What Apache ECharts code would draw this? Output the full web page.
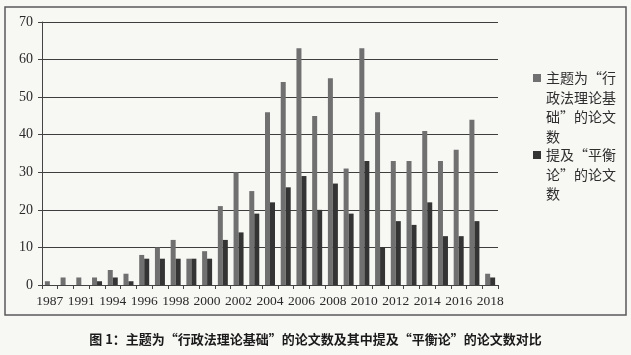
<!DOCTYPE html>
<html>
<head>
<meta charset="utf-8">
<script src="https://cdn.jsdelivr.net/npm/echarts@6/dist/echarts.min.js"></script>
<style>
html,body{margin:0;padding:0;background:#f7f7f4;}
#chart{width:631px;height:355px;}
</style>
</head>
<body>
<div id="chart"></div>
<script>
var categories = ['1987','1989','1991','1993','1994','1995','1996','1997','1998','1999','2000','2001','2002','2003','2004','2005','2006','2007','2008','2009','2010','2011','2012','2013','2014','2015','2016','2017','2018'];
var themePapers = [1,2,2,2,4,3,8,10,12,7,9,21,30,25,46,54,63,45,55,31,63,46,33,33,41,33,36,44,3];
var balancePapers = [0,0,0,1,2,1,7,7,7,7,7,12,14,19,22,26,29,20,27,19,33,10,17,16,22,13,13,17,2];
var yTicks = {min:0, max:70, interval:10};
var name1 = '主题为“行政法理论基础”的论文数';
var name2 = '提及“平衡论”的论文数';
var caption = '图 1：主题为“行政法理论基础”的论文数及其中提及“平衡论”的论文数对比';

var chart = echarts.init(document.getElementById('chart'));
var serif = '"Liberation Serif","DejaVu Serif",serif';
var cjk = '"Noto Sans CJK SC","Noto Sans",sans-serif';
var icon4 = 'path://M0,0h8 M0,6h8v8h-8z M0,78h8';
var icon3 = 'path://M0,0h8 M0,6h8v8h-8z M0,58.5h8';
chart.setOption({
  backgroundColor: '#f7f7f4',
  animation: false,
  title: {
    text: caption,
    left: 'center',
    top: 328,
    textStyle: {fontFamily: cjk, fontSize: 13, fontWeight: 'bold', color: '#1a1a1a'}
  },
  graphic: [{
    type: 'rect',
    shape: {x: 5, y: 7, width: 621, height: 308},
    style: {fill: 'none', stroke: '#5a5a5a', lineWidth: 1.5},
    silent: true
  }],
  legend: [{
    data: [name1],
    left: 528, top: 63,
    orient: 'vertical',
    itemWidth: 8, itemHeight: 78,
    icon: icon4,
    formatter: function(){ return '主题为“行\n政法理论基\n础”的论文\n数'; },
    textStyle: {fontFamily: cjk, fontSize: 14, lineHeight: 19.5, color: '#2e2e2e'}
  },{
    data: [name2],
    left: 528, top: 140,
    orient: 'vertical',
    itemWidth: 8, itemHeight: 58.5,
    icon: icon3,
    formatter: function(){ return '提及“平衡\n论”的论文\n数'; },
    textStyle: {fontFamily: cjk, fontSize: 14, lineHeight: 19.5, color: '#2e2e2e'}
  }],
  grid: {left: 42, right: 133, top: 22, bottom: 70},
  xAxis: {
    type: 'category',
    data: categories,
    axisLine: {lineStyle: {color: '#444', width: 1}},
    axisTick: {show: true, length: 4, interval: 0, lineStyle: {color: '#444'}},
    axisLabel: {interval: 1, margin: 9, fontFamily: serif, fontSize: 13.5, color: '#2a2a2a'}
  },
  yAxis: {
    type: 'value',
    min: yTicks.min, max: yTicks.max, interval: yTicks.interval,
    axisLine: {show: true, lineStyle: {color: '#444', width: 1}},
    axisTick: {show: true, length: 4, lineStyle: {color: '#444'}},
    axisLabel: {margin: 9, fontFamily: serif, fontSize: 14, color: '#2a2a2a'},
    splitLine: {lineStyle: {color: '#3e3e3e', width: 1}}
  },
  series: [{
    name: name1, type: 'bar', data: themePapers,
    barWidth: 5, barGap: '0%',
    itemStyle: {color: '#707070'}
  },{
    name: name2, type: 'bar', data: balancePapers,
    barWidth: 5, barGap: '0%',
    itemStyle: {color: '#343434'}
  }]
});
</script>
</body>
</html>
